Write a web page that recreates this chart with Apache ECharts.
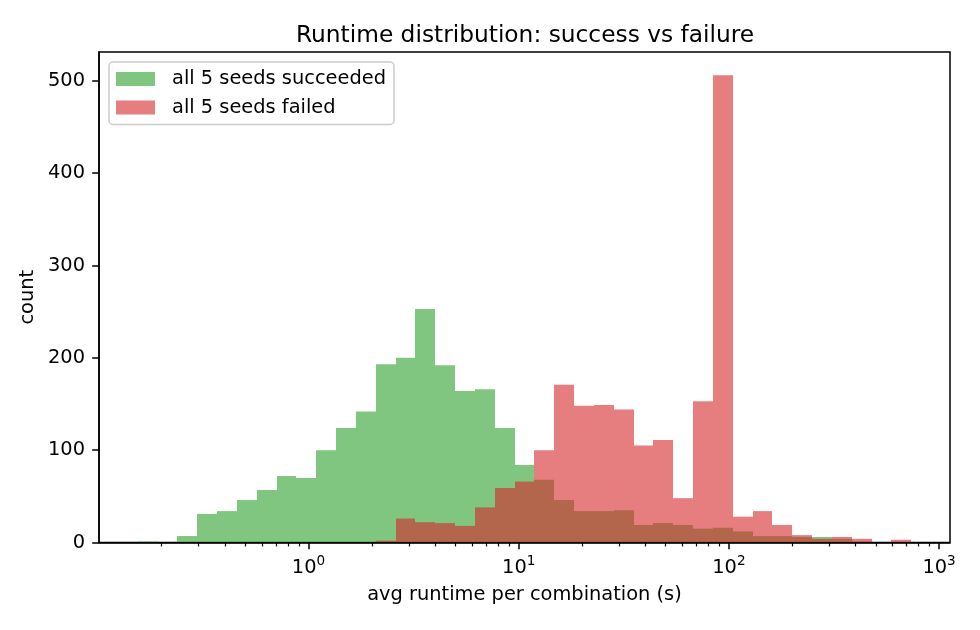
<!DOCTYPE html>
<html>
<head>
<meta charset="utf-8">
<script src="https://cdn.jsdelivr.net/npm/echarts@6/dist/echarts.min.js"></script>
<style>
  html, body { margin: 0; padding: 0; background: #fff; }
  #chart { width: 980px; height: 630px; }
</style>
</head>
<body>
<div id="chart"></div>
<script>
// histogram bin edges, seconds (log spaced, 39 bins)
const binEdges = [
  0.1539, 0.1913, 0.2377, 0.2954, 0.3671, 0.4563, 0.5670, 0.7047, 0.8757, 1.088,
  1.353, 1.681, 2.089, 2.596, 3.226, 4.009, 4.982, 6.191, 7.693, 9.561,
  11.88, 14.77, 18.35, 22.80, 28.34, 35.22, 43.76, 54.38, 67.58, 83.98,
  104.4, 129.7, 161.2, 200.3, 248.9, 309.3, 384.4, 477.7, 593.6, 737.8
];
// counts per bin
const succeeded = [
  1, 0, 7, 31, 34, 46, 57, 72, 70, 100,
  124, 142, 193, 200, 253, 192, 164, 166, 124, 84,
  68, 46, 34, 34, 35, 19, 21, 19, 15, 16,
  12, 7, 7, 6, 6, 4, 1, 0, 0
];
const failed = [
  0, 0, 0, 0, 0, 0, 0, 0, 0, 0,
  0, 0, 2, 26, 22, 21, 18, 38, 59, 66,
  100, 171, 148, 149, 144, 105, 111, 48, 153, 506,
  28, 34, 19, 8, 4, 6, 4, 0, 3
];
const yTicks = [0, 100, 200, 300, 400, 500];
const xDecades = [0, 1, 2, 3];
const minorSteps = [2, 3, 4, 5, 6, 7, 8, 9];

const FONT = 'DejaVu Sans';
const logEdges = binEdges.map(Math.log10);
const span = logEdges[logEdges.length - 1] - logEdges[0];
const xMin = logEdges[0] - 0.05 * span;
const xMax = logEdges[logEdges.length - 1] + 0.05 * span;
const yMax = 1.05 * Math.max(...succeeded, ...failed);

const minorTicks = [];
for (let d = -1; d < 3; d++) {
  minorSteps.forEach(k => {
    const v = d + Math.log10(k);
    if (v > xMin && v < xMax) minorTicks.push(v);
  });
}

const binData = counts => counts.map((c, i) => [logEdges[i], logEdges[i + 1], c]);

// snap to whole pixels so neighbouring bins meet without seams
const renderBin = (params, api) => {
  const c = api.value(2);
  if (!c) return null;
  const p0 = api.coord([api.value(0), c]);
  const p1 = api.coord([api.value(1), 0]);
  const x0 = Math.round(p0[0]), x1 = Math.round(p1[0]);
  return {
    type: 'rect',
    shape: { x: x0, y: p0[1], width: x1 - x0, height: p1[1] - p0[1] },
    style: { fill: api.visual('color') }
  };
};

const chart = echarts.init(document.getElementById('chart'));
chart.setOption({
  animation: false,
  title: {
    text: 'Runtime distribution: success vs failure',
    left: 520,
    textAlign: 'center',
    top: 19,
    textStyle: { fontFamily: FONT, fontSize: 23.3, fontWeight: 'normal', color: '#000' }
  },
  legend: {
    orient: 'vertical',
    left: 109,
    top: 62,
    itemWidth: 39,
    itemHeight: 14,
    itemGap: 8.5,
    padding: [7, 8, 7, 7],
    borderColor: '#cccccc',
    borderWidth: 1.5,
    borderRadius: 4,
    backgroundColor: 'rgba(255,255,255,0.8)',
    icon: 'rect',
    textStyle: { fontFamily: FONT, fontSize: 19.4, color: '#000', lineHeight: 20, padding: [0, 0, 0, 12] },
    data: ['all 5 seeds succeeded', 'all 5 seeds failed']
  },
  grid: {
    left: 99, right: 30, top: 52, bottom: 87.5,
    show: true, borderColor: '#000', borderWidth: 1.5, backgroundColor: 'transparent'
  },
  xAxis: [
    {
      type: 'value', min: xMin, max: xMax, z: 5,
      name: 'avg runtime per combination (s)',
      nameLocation: 'middle', nameGap: 43,
      nameTextStyle: { fontFamily: FONT, fontSize: 19.4, color: '#000' },
      axisLine: { show: true, onZero: false, lineStyle: { color: '#000', width: 1.5 } },
      axisTick: { customValues: xDecades, length: 6.8, lineStyle: { color: '#000', width: 1.5 } },
      axisLabel: {
        customValues: xDecades, margin: 12,
        formatter: v => '{b|10}{s|' + v + '}',
        rich: {
          b: { fontFamily: FONT, fontSize: 19.4, color: '#000' },
          s: { fontFamily: FONT, fontSize: 13.6, color: '#000', padding: [0, 0, 12, 0] }
        }
      },
      splitLine: { show: false }
    },
    {
      type: 'value', min: xMin, max: xMax, position: 'bottom', offset: 0, z: 5,
      axisLine: { show: false, onZero: false },
      axisTick: { customValues: minorTicks, length: 3.9, lineStyle: { color: '#000', width: 1.2 } },
      axisLabel: { show: false },
      splitLine: { show: false }
    }
  ],
  yAxis: {
    type: 'value', min: 0, max: yMax,
    name: 'count', nameLocation: 'middle', nameGap: 55,
    nameTextStyle: { fontFamily: FONT, fontSize: 19.4, color: '#000' },
    axisLine: { show: true, onZero: false, lineStyle: { color: '#000', width: 1.5 } },
    axisTick: { customValues: yTicks, length: 6.8, lineStyle: { color: '#000', width: 1.5 } },
    axisLabel: { customValues: yTicks, margin: 14, fontFamily: FONT, fontSize: 19.4, color: '#000' },
    splitLine: { show: false }
  },
  series: [
    {
      name: 'all 5 seeds succeeded', type: 'custom', renderItem: renderBin,
      itemStyle: { color: 'rgba(44,160,44,0.6)' },
      encode: { x: [0, 1], y: 2 }, data: binData(succeeded), silent: true
    },
    {
      name: 'all 5 seeds failed', type: 'custom', renderItem: renderBin,
      itemStyle: { color: 'rgba(214,39,40,0.6)' },
      encode: { x: [0, 1], y: 2 }, data: binData(failed), silent: true
    }
  ]
});
</script>
</body>
</html>
